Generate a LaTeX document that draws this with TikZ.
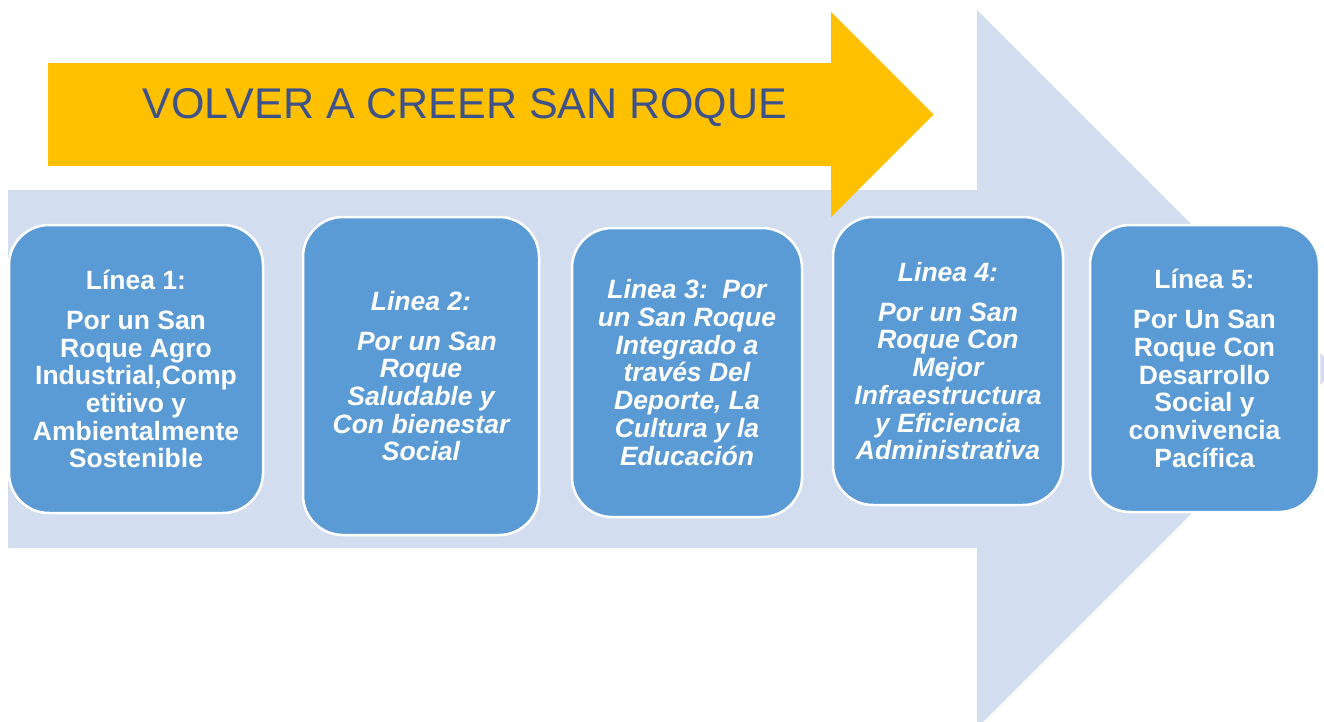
\documentclass[tikz,border=0pt]{standalone}
\usepackage{fontspec}
\setmainfont{Liberation Sans}
\definecolor{paleblue}{RGB}{210,222,239}
\definecolor{gold}{RGB}{255,192,0}
\definecolor{boxblue}{RGB}{91,155,213}
\definecolor{titleblue}{RGB}{62,82,138}
\begin{document}
\begin{tikzpicture}[x=1pt,y=-1pt,
  linebox/.style={draw=white,line width=2.5pt,fill=boxblue,rounded corners=40pt,
    inner sep=0pt,align=center,text=white,font=\fontsize{26.5}{27.7}\selectfont\bfseries},
  itbox/.style={linebox,font=\fontsize{26.5}{27.7}\selectfont\bfseries\itshape}]
\useasboundingbox (0,0) rectangle (1324,721);
% big pale arrow
\fill[paleblue] (8,190) -- (977,190) -- (977,10) -- (1336,369) -- (977,728) -- (977,548) -- (8,548) -- cycle;
% yellow arrow
\fill[gold] (48,63) -- (831,63) -- (831,12) -- (933.5,114.5) -- (831,217) -- (831,166) -- (48,166) -- cycle;
\node[text=titleblue,font=\fontsize{43}{46}\selectfont,anchor=base] (title) at (465,118) {VOLVER A CREER SAN ROQUE};
% boxes
\node[linebox,minimum width=254pt,minimum height=288pt] (l1) at (136,369)
  {Línea 1:\\[12.3pt]Por un San\\Roque Agro\\Industrial,Comp\\etitivo y\\Ambientalmente\\Sostenible};
\node[itbox,minimum width=236pt,minimum height=318pt] (l2) at (421,376)
  {Linea 2:\\[12.3pt]\hspace*{12pt}Por un San\\Roque\\Saludable y\\Con bienestar\\Social};
\node[itbox,minimum width=230pt,minimum height=289pt] (l3) at (687,372.5)
  {Linea 3:\ \ Por\\un San Roque\\Integrado a\\través Del\\Deporte, La\\Cultura y la\\Educación};
\node[itbox,minimum width=230pt,minimum height=288pt] (l4) at (948,361)
  {Linea 4:\\[12.3pt]Por un San\\Roque Con\\Mejor\\Infraestructura\\y Eficiencia\\Administrativa};
\node[linebox,minimum width=229pt,minimum height=287pt] (l5) at (1204.5,368.5)
  {Línea 5:\\[12.3pt]Por Un San\\Roque Con\\Desarrollo\\Social y\\convivencia\\Pacífica};
\end{tikzpicture}
\end{document}
